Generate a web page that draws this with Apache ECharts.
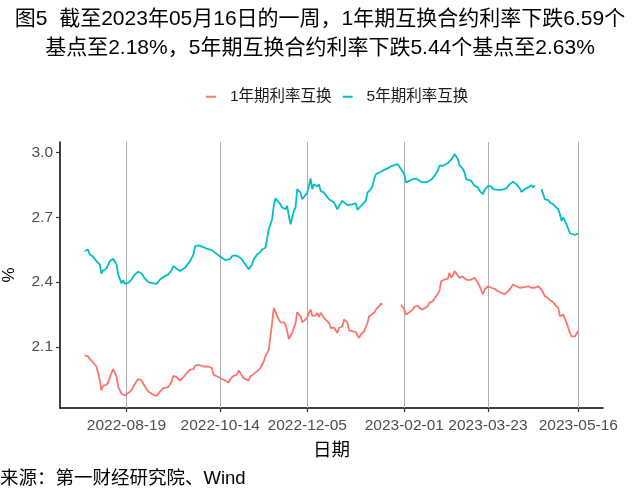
<!DOCTYPE html>
<html>
<head>
<meta charset="utf-8">
<script src="https://cdn.jsdelivr.net/npm/echarts@6/dist/echarts.min.js"></script>
<style>
html,body{margin:0;padding:0;background:#fff;}
#chart{width:640px;height:498px;}
</style>
</head>
<body>
<div id="chart"></div>
<script>
// ---------- data ----------
var titleText = '图5  截至2023年05月16日的一周，1年期互换合约利率下跌6.59个\n基点至2.18%，5年期互换合约利率下跌5.44个基点至2.63%';
var sourceText = '来源：第一财经研究院、Wind';
var xAxisName = '日期';
var yAxisName = '%';
var seriesNames = ['1年期利率互换', '5年期利率互换'];
var xTickDates = ['2022-08-19', '2022-10-14', '2022-12-05', '2023-02-01', '2023-03-23', '2023-05-16'];
var yTickValues = [2.1, 2.4, 2.7, 3.0];

var dates1Y = ['2022-07-25','2022-07-26','2022-07-27','2022-07-28','2022-07-30','2022-08-01','2022-08-02','2022-08-03','2022-08-04','2022-08-05','2022-08-07','2022-08-08','2022-08-10','2022-08-11','2022-08-12','2022-08-13','2022-08-14','2022-08-16','2022-08-17','2022-08-18','2022-08-20','2022-08-22','2022-08-24','2022-08-26','2022-08-28','2022-08-30','2022-09-01','2022-09-04','2022-09-06','2022-09-08','2022-09-10','2022-09-13','2022-09-15','2022-09-16','2022-09-18','2022-09-20','2022-09-22','2022-09-24','2022-09-26','2022-09-28','2022-09-29','2022-10-01','2022-10-04','2022-10-07','2022-10-09','2022-10-10','2022-10-13','2022-10-15','2022-10-17','2022-10-19','2022-10-20','2022-10-22','2022-10-24','2022-10-25','2022-10-26','2022-10-28','2022-10-29','2022-10-31','2022-11-01','2022-11-03','2022-11-05','2022-11-07','2022-11-09','2022-11-10','2022-11-12','2022-11-13','2022-11-14','2022-11-15','2022-11-16','2022-11-18','2022-11-19','2022-11-21','2022-11-22','2022-11-23','2022-11-24','2022-11-26','2022-11-27','2022-11-28','2022-11-29','2022-12-01','2022-12-02','2022-12-03','2022-12-05','2022-12-06','2022-12-07','2022-12-08','2022-12-10','2022-12-11','2022-12-12','2022-12-13','2022-12-15','2022-12-16','2022-12-18','2022-12-19','2022-12-21','2022-12-23','2022-12-24','2022-12-26','2022-12-27','2022-12-29','2022-12-30','2023-01-01','2023-01-03','2023-01-05','2023-01-06','2023-01-08','2023-01-10','2023-01-11','2023-01-12','2023-01-14','2023-01-15','2023-01-17','2023-01-18','2023-01-19','2023-01-25','2023-01-30','2023-02-01','2023-02-02','2023-02-04','2023-02-06','2023-02-07','2023-02-09','2023-02-10','2023-02-12','2023-02-13','2023-02-15','2023-02-16','2023-02-18','2023-02-20','2023-02-22','2023-02-23','2023-02-25','2023-02-27','2023-02-28','2023-03-01','2023-03-02','2023-03-03','2023-03-05','2023-03-06','2023-03-08','2023-03-09','2023-03-10','2023-03-12','2023-03-13','2023-03-15','2023-03-17','2023-03-18','2023-03-20','2023-03-21','2023-03-23','2023-03-25','2023-03-26','2023-03-27','2023-03-29','2023-03-31','2023-04-02','2023-04-03','2023-04-05','2023-04-07','2023-04-09','2023-04-11','2023-04-12','2023-04-14','2023-04-16','2023-04-18','2023-04-19','2023-04-20','2023-04-22','2023-04-24','2023-04-25','2023-04-26','2023-04-28','2023-04-29','2023-05-01','2023-05-02','2023-05-04','2023-05-05','2023-05-06','2023-05-07','2023-05-08','2023-05-09','2023-05-11','2023-05-12','2023-05-14','2023-05-15','2023-05-16'];
var rate1Y = [2.061,2.054,2.057,2.045,2.029,2.010,1.980,1.949,1.899,1.921,1.925,1.936,1.980,1.998,2.003,1.964,1.917,1.884,1.890,1.876,1.887,1.902,1.930,1.952,1.945,1.917,1.894,1.879,1.874,1.894,1.910,1.915,1.941,1.967,1.961,1.945,1.961,1.980,1.995,1.998,2.013,2.018,2.010,2.010,2.003,1.972,1.961,1.952,1.945,1.936,1.952,1.967,1.972,1.992,1.980,1.956,1.952,1.945,1.964,1.976,1.987,2.003,2.033,2.057,2.088,2.149,2.211,2.281,2.273,2.227,2.214,2.214,2.204,2.173,2.137,2.165,2.188,2.211,2.261,2.242,2.214,2.219,2.235,2.258,2.273,2.245,2.245,2.258,2.239,2.258,2.235,2.227,2.211,2.188,2.190,2.165,2.188,2.196,2.227,2.214,2.177,2.173,2.168,2.142,2.157,2.173,2.211,2.242,2.235,2.258,2.273,2.289,2.301,2.296,null,2.296,2.273,2.250,2.261,2.273,2.286,2.292,2.281,2.273,2.273,2.289,2.304,2.312,2.335,2.358,2.404,2.412,2.416,2.443,2.420,2.431,2.451,2.431,2.420,2.425,2.416,2.412,2.409,2.404,2.420,2.397,2.381,2.343,2.366,2.381,2.374,2.366,2.369,2.358,2.351,2.343,2.335,2.366,2.389,2.381,2.374,2.369,2.377,2.381,2.374,2.381,2.374,2.381,2.366,2.369,2.335,2.327,2.316,2.307,2.296,2.281,2.242,2.235,2.250,2.242,2.211,2.165,2.149,2.149,2.149,2.175];

var dates5Y = ['2022-07-25','2022-07-26','2022-07-27','2022-07-28','2022-07-30','2022-08-01','2022-08-03','2022-08-04','2022-08-05','2022-08-07','2022-08-08','2022-08-09','2022-08-11','2022-08-12','2022-08-13','2022-08-14','2022-08-16','2022-08-17','2022-08-18','2022-08-20','2022-08-22','2022-08-24','2022-08-26','2022-08-28','2022-08-30','2022-09-01','2022-09-04','2022-09-06','2022-09-08','2022-09-11','2022-09-13','2022-09-15','2022-09-16','2022-09-18','2022-09-20','2022-09-21','2022-09-23','2022-09-26','2022-09-28','2022-09-29','2022-10-01','2022-10-03','2022-10-06','2022-10-09','2022-10-11','2022-10-14','2022-10-17','2022-10-18','2022-10-20','2022-10-21','2022-10-23','2022-10-25','2022-10-26','2022-10-27','2022-10-29','2022-10-30','2022-10-31','2022-11-02','2022-11-03','2022-11-05','2022-11-07','2022-11-08','2022-11-09','2022-11-10','2022-11-11','2022-11-12','2022-11-14','2022-11-15','2022-11-16','2022-11-17','2022-11-19','2022-11-20','2022-11-22','2022-11-23','2022-11-24','2022-11-25','2022-11-26','2022-11-27','2022-11-28','2022-11-29','2022-12-01','2022-12-02','2022-12-03','2022-12-05','2022-12-06','2022-12-07','2022-12-08','2022-12-09','2022-12-11','2022-12-12','2022-12-13','2022-12-15','2022-12-16','2022-12-18','2022-12-19','2022-12-21','2022-12-23','2022-12-24','2022-12-26','2022-12-27','2022-12-29','2022-12-30','2023-01-01','2023-01-03','2023-01-04','2023-01-06','2023-01-07','2023-01-09','2023-01-10','2023-01-12','2023-01-13','2023-01-14','2023-01-15','2023-01-16','2023-01-18','2023-01-19','2023-01-20','2023-01-22','2023-01-24','2023-01-26','2023-01-28','2023-01-30','2023-02-01','2023-02-02','2023-02-04','2023-02-06','2023-02-08','2023-02-09','2023-02-11','2023-02-13','2023-02-15','2023-02-17','2023-02-19','2023-02-21','2023-02-22','2023-02-24','2023-02-25','2023-02-27','2023-03-01','2023-03-02','2023-03-03','2023-03-05','2023-03-06','2023-03-08','2023-03-09','2023-03-10','2023-03-11','2023-03-13','2023-03-14','2023-03-15','2023-03-17','2023-03-18','2023-03-20','2023-03-21','2023-03-23','2023-03-25','2023-03-26','2023-03-27','2023-03-29','2023-03-31','2023-04-01','2023-04-03','2023-04-05','2023-04-07','2023-04-09','2023-04-11','2023-04-12','2023-04-14','2023-04-16','2023-04-18','2023-04-19','2023-04-20','2023-04-22','2023-04-24','2023-04-25','2023-04-26','2023-04-28','2023-04-29','2023-05-01','2023-05-02','2023-05-04','2023-05-05','2023-05-06','2023-05-07','2023-05-08','2023-05-09','2023-05-11','2023-05-12','2023-05-14','2023-05-15','2023-05-16'];
var rate5Y = [2.544,2.536,2.551,2.528,2.518,2.497,2.482,2.439,2.454,2.462,2.471,2.497,2.508,2.513,2.482,2.436,2.394,2.409,2.392,2.397,2.412,2.436,2.448,2.440,2.416,2.400,2.394,2.392,2.412,2.428,2.436,2.456,2.474,2.462,2.451,2.443,2.467,2.497,2.528,2.567,2.570,2.564,2.555,2.548,2.536,2.518,2.502,2.497,2.508,2.520,2.524,2.518,2.524,2.505,2.482,2.471,2.459,2.482,2.505,2.528,2.539,2.551,2.544,2.559,2.598,2.644,2.691,2.752,2.787,2.791,2.760,2.745,2.737,2.752,2.706,2.667,2.698,2.729,2.745,2.830,2.814,2.783,2.791,2.814,2.845,2.879,2.830,2.853,2.842,2.853,2.822,2.814,2.807,2.783,2.776,2.768,2.737,2.752,2.776,2.780,2.756,2.765,2.760,2.765,2.734,2.752,2.760,2.776,2.814,2.830,2.845,2.876,2.899,2.895,2.910,2.907,2.919,2.926,2.935,2.941,2.946,2.923,2.899,2.861,2.868,2.876,2.879,2.873,2.864,2.861,2.864,2.873,2.891,2.915,2.938,2.938,2.946,2.950,2.966,2.977,2.992,2.969,2.941,2.923,2.907,2.876,2.884,2.868,2.868,2.845,2.838,2.822,2.807,2.827,2.845,2.842,2.830,2.822,2.827,2.827,2.833,2.833,2.853,2.864,2.853,2.833,2.817,2.830,2.838,2.848,2.838,2.848,null,2.830,2.822,2.783,2.780,2.768,2.760,2.752,2.737,2.714,2.683,2.699,2.694,2.667,2.626,2.621,2.618,2.618,2.626];

// ---------- helpers ----------
function toTime(s) {
  var p = s.split('-');
  return Date.UTC(+p[0], +p[1] - 1, +p[2]);
}
function pad2(n) { return (n < 10 ? '0' : '') + n; }
function fmtDate(v) {
  var d = new Date(Math.round(v));
  return d.getUTCFullYear() + '-' + pad2(d.getUTCMonth() + 1) + '-' + pad2(d.getUTCDate());
}
function pairs(ds, vs) {
  return ds.map(function (d, i) { return [toTime(d), vs[i]]; });
}

var allTimes = dates1Y.concat(dates5Y).map(toTime);
var tMin = Math.min.apply(null, allTimes);
var tMax = Math.max.apply(null, allTimes);
var tPad = (tMax - tMin) * 0.05;
var allVals = rate1Y.concat(rate5Y).filter(function (v) { return v != null; });
var vMin = Math.min.apply(null, allVals);
var vMax = Math.max.apply(null, allVals);
var vPad = (vMax - vMin) * 0.05;
var xTicks = xTickDates.map(toTime);

var FONT = '"Liberation Sans", "Noto Sans CJK SC", sans-serif';
var chart = echarts.init(document.getElementById('chart'), null, { renderer: 'canvas' });

chart.setOption({
  animation: false,
  backgroundColor: '#ffffff',
  color: ['#F8766D', '#00BFC4'],
  legend: {
    top: 84,
    left: 201,
    icon: 'rect',
    itemWidth: 10,
    itemHeight: 2,
    itemGap: 11,
    textStyle: { fontFamily: FONT, fontSize: 15.5, color: '#1a1a1a', padding: [0, 0, 0, 9] },
    data: seriesNames
  },
  grid: { left: 60, right: 37, top: 142, bottom: 90, containLabel: false, outerBoundsMode: 'none' },
  xAxis: {
    type: 'value',
    min: tMin - tPad,
    max: tMax + tPad,
    scale: true,
    name: xAxisName,
    nameLocation: 'middle',
    nameGap: 34,
    nameTextStyle: { fontFamily: FONT, fontSize: 18.5, color: '#000000' },
    axisLine: { show: true, onZero: false, lineStyle: { color: '#000000', width: 1.5 } },
    axisTick: { show: true, length: 4, customValues: xTicks, lineStyle: { color: '#333333', width: 1.2 } },
    axisLabel: {
      customValues: xTicks,
      margin: 10,
      fontFamily: FONT,
      fontSize: 15.5,
      color: '#4D4D4D',
      formatter: function (v) { return fmtDate(v); },
      hideOverlap: false
    },
    splitLine: { show: false }
  },
  yAxis: {
    type: 'value',
    min: vMin - vPad,
    max: vMax + vPad,
    scale: true,
    name: yAxisName,
    nameLocation: 'middle',
    nameGap: 42,
    nameRotate: 90,
    nameTextStyle: { fontFamily: FONT, fontSize: 17, color: '#000000' },
    axisLine: { show: true, onZero: false, lineStyle: { color: '#000000', width: 1.5 } },
    axisTick: { show: true, length: 4, customValues: yTickValues, lineStyle: { color: '#333333', width: 1.2 } },
    axisLabel: {
      customValues: yTickValues,
      margin: 7,
      fontFamily: FONT,
      fontSize: 15.5,
      color: '#4D4D4D',
      formatter: function (v) { return v.toFixed(1); }
    },
    splitLine: { show: false }
  },
  graphic: [
    {
      type: 'text',
      x: 320,
      y: 5,
      style: {
        text: titleText,
        font: '21px ' + FONT,
        fill: '#000000',
        align: 'center',
        verticalAlign: 'top',
        lineHeight: 29
      }
    },
    {
      type: 'text',
      x: 0,
      y: 470,
      style: { text: sourceText, font: '18.5px ' + FONT, fill: '#000000', verticalAlign: 'top' }
    }
  ],
  series: [
    {
      name: seriesNames[0],
      type: 'line',
      data: pairs(dates1Y, rate1Y),
      showSymbol: false,
      connectNulls: false,
      lineStyle: { width: 1.8 },
      z: 3,
      markLine: {
        silent: true,
        symbol: ['none', 'none'],
        label: { show: false },
        lineStyle: { color: '#ADADAD', width: 1, type: 'solid' },
        data: xTicks.map(function (t) { return { xAxis: t }; }),
        z: 1
      }
    },
    {
      name: seriesNames[1],
      type: 'line',
      data: pairs(dates5Y, rate5Y),
      showSymbol: false,
      connectNulls: false,
      lineStyle: { width: 1.8 },
      z: 3
    }
  ]
});
</script>
</body>
</html>
